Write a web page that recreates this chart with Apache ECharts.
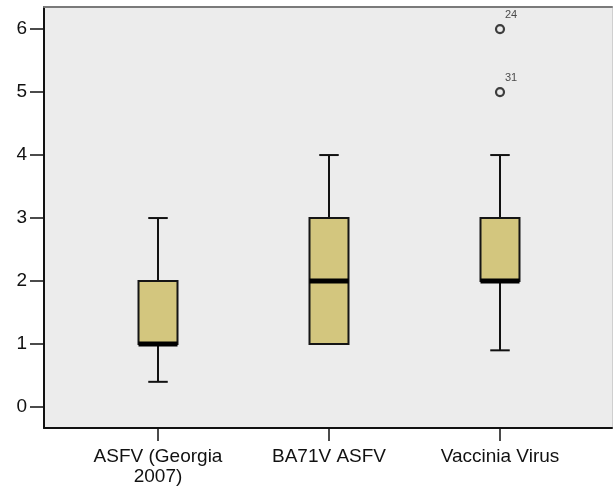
<!DOCTYPE html>
<html>
<head>
<meta charset="utf-8">
<script src="https://cdn.jsdelivr.net/npm/echarts@6/dist/echarts.min.js"></script>
<style>
  html, body { margin: 0; padding: 0; background: #fff; }
  #chart { width: 614px; height: 488px; }
</style>
</head>
<body>
<div id="chart"></div>
<script>
// groups along the x axis
const categories = ['ASFV (Georgia\n2007)', 'BA71V ASFV', 'Vaccinia Virus'];
const catPos = [1, 2, 3];

// box statistics
const lowWhisker = [0.4, 1, 0.9];
const q1 = [1, 1, 2];
const median = [1, 2, 2];
const q3 = [2, 3, 3];
const highWhisker = [3, 4, 4];

// outliers: [group position, value, case number]
const outliers = [[3, 6, '24'], [3, 5, '31']];

const yTicks = [0, 1, 2, 3, 4, 5, 6];

const boxData = catPos.map((x, i) => [x, lowWhisker[i], q1[i], median[i], q3[i], highWhisker[i]]);

const chart = echarts.init(document.getElementById('chart'));

function renderBox(params, api) {
  const x = api.value(0);
  const pLow = api.coord([x, api.value(1)]);
  const pQ1 = api.coord([x, api.value(2)]);
  const pMed = api.coord([x, api.value(3)]);
  const pQ3 = api.coord([x, api.value(4)]);
  const pHigh = api.coord([x, api.value(5)]);
  const boxW = api.size([1, 0])[0] * 0.228;
  const capW = boxW / 2;
  const cx = pMed[0];
  const lineStyle = { stroke: '#111', lineWidth: 2 };
  return {
    type: 'group',
    children: [
      { type: 'line', shape: { x1: cx, y1: pQ3[1], x2: cx, y2: pHigh[1] }, style: lineStyle },
      { type: 'line', shape: { x1: cx, y1: pLow[1], x2: cx, y2: pQ1[1] }, style: lineStyle },
      { type: 'line', shape: { x1: cx - capW / 2, y1: pHigh[1], x2: cx + capW / 2, y2: pHigh[1] }, style: lineStyle },
      { type: 'line', shape: { x1: cx - capW / 2, y1: pLow[1], x2: cx + capW / 2, y2: pLow[1] }, style: lineStyle },
      {
        type: 'rect',
        shape: { x: cx - boxW / 2, y: pQ3[1], width: boxW, height: pQ1[1] - pQ3[1] },
        style: { fill: '#d3c67e', stroke: '#151515', lineWidth: 2 }
      },
      {
        type: 'rect',
        shape: { x: cx - boxW / 2, y: pMed[1] - 2.5, width: boxW, height: 5 },
        style: { fill: '#000' }
      }
    ]
  };
}

const labelFont = { fontFamily: 'Liberation Sans', fontSize: 19, color: '#111' };

chart.setOption({
  animation: false,
  backgroundColor: '#ffffff',
  grid: {
    left: 44, right: 2, top: 7, bottom: 60,
    show: true, backgroundColor: '#ececec', borderWidth: 0
  },
  xAxis: [{
    type: 'value',
    min: 0.3333,
    max: 3.655,
    splitLine: { show: false },
    axisLine: { show: true, onZero: false, lineStyle: { color: '#111', width: 2 } },
    axisTick: { show: true, length: 13, customValues: catPos, lineStyle: { color: '#111', width: 1.5 } },
    axisLabel: Object.assign({
      customValues: catPos,
      margin: 19,
      lineHeight: 20,
      formatter: v => categories[Math.round(v) - 1] || ''
    }, labelFont)
  }, {
    type: 'value',
    position: 'top',
    min: 0.3333,
    max: 3.655,
    splitLine: { show: false },
    axisLine: { show: true, onZero: false, lineStyle: { color: '#7a7a7a', width: 2 } },
    axisTick: { show: false },
    axisLabel: { show: false }
  }],
  yAxis: [{
    type: 'value',
    min: -0.333,
    max: 6.35,
    splitLine: { show: false },
    axisLine: { show: true, onZero: false, lineStyle: { color: '#111', width: 2 } },
    axisTick: { show: true, length: 14, customValues: yTicks, lineStyle: { color: '#111', width: 1.5 } },
    axisLabel: Object.assign({ customValues: yTicks, margin: 17 }, labelFont)
  }, {
    type: 'value',
    position: 'right',
    min: -0.333,
    max: 6.35,
    splitLine: { show: false },
    axisLine: { show: true, onZero: false, lineStyle: { color: '#cfcfcf', width: 1 } },
    axisTick: { show: false },
    axisLabel: { show: false }
  }],
  series: [{
    type: 'custom',
    renderItem: renderBox,
    data: boxData,
    encode: { x: 0, y: [1, 2, 3, 4, 5] },
    silent: true
  }, {
    type: 'scatter',
    data: outliers.map(o => ({ value: [o[0], o[1]], name: o[2] })),
    symbol: 'circle',
    symbolSize: 8,
    itemStyle: { color: '#ececec', borderColor: '#111', borderWidth: 2.2 },
    label: {
      show: true,
      position: 'top',
      offset: [11, 2],
      formatter: p => p.name,
      fontFamily: 'Liberation Sans',
      fontSize: 11,
      color: '#222'
    },
    silent: true
  }]
});
</script>
</body>
</html>
